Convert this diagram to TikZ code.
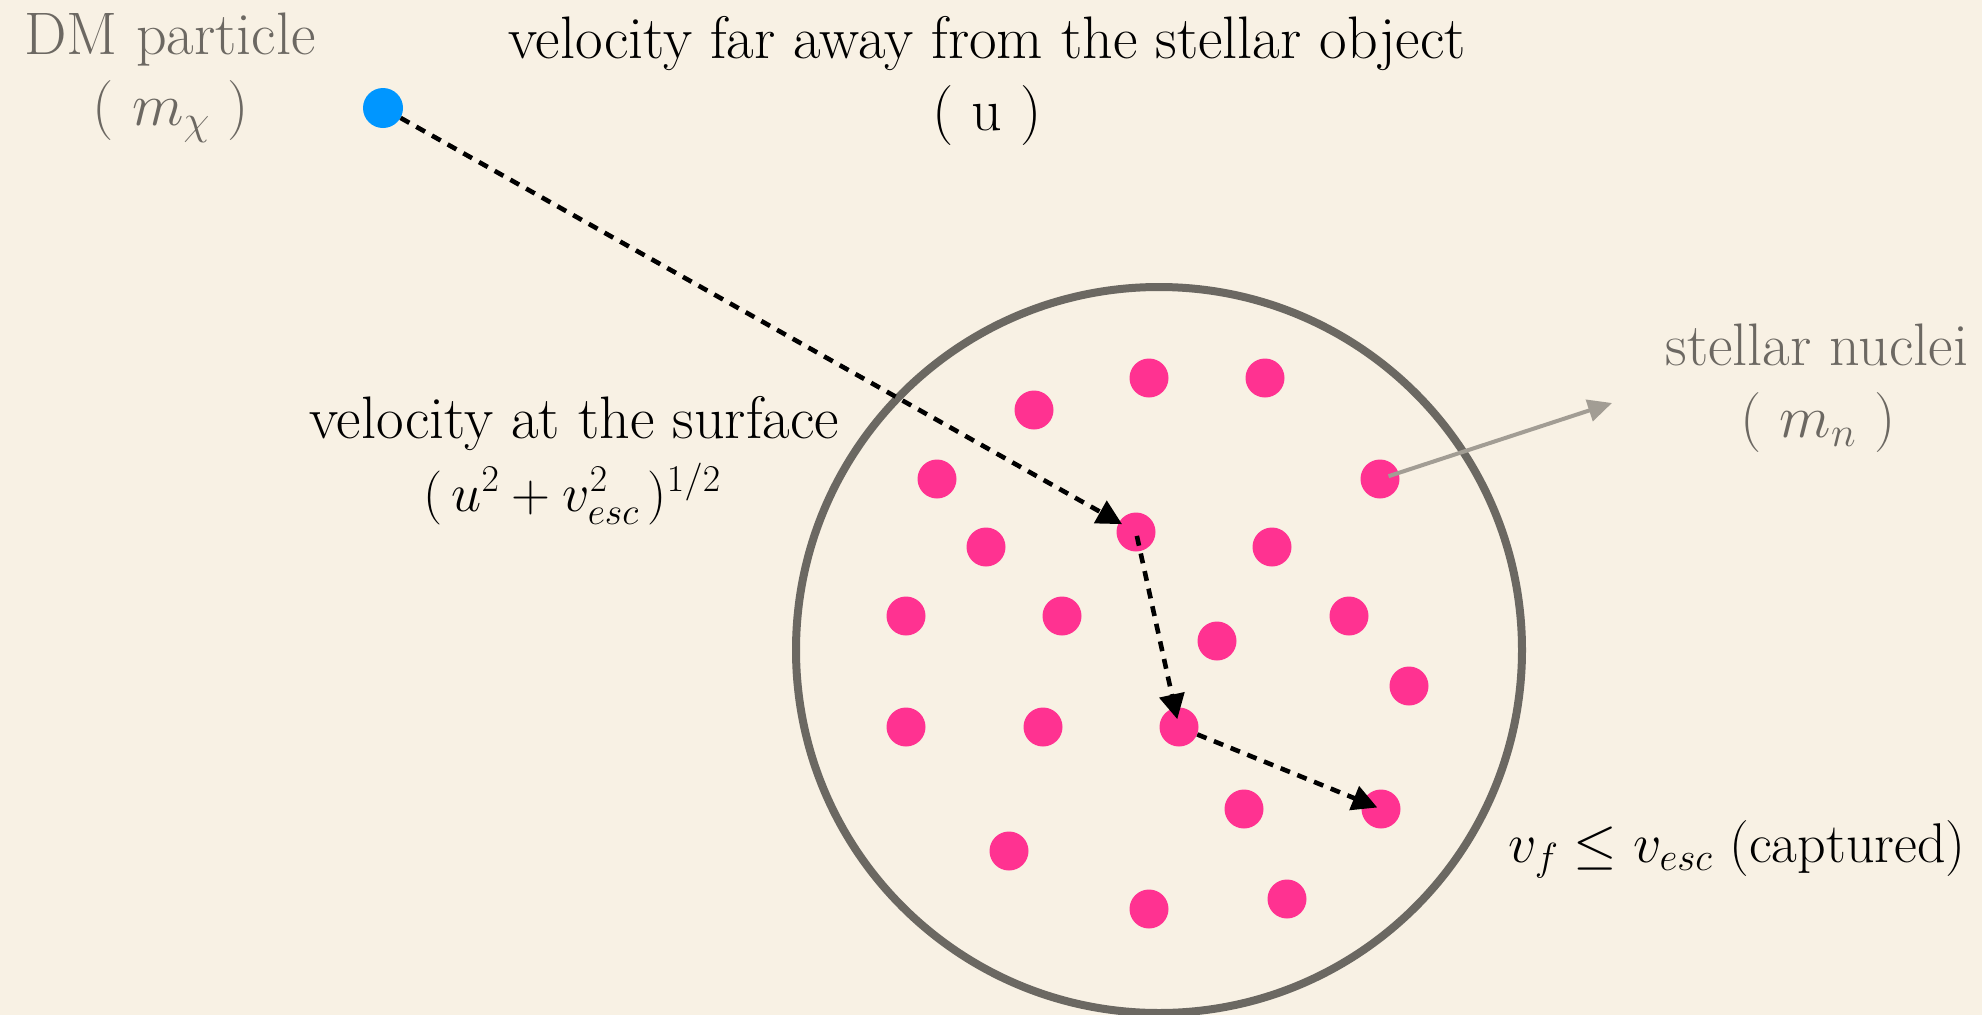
\RequirePackage{fix-cm}
\documentclass[tikz,border=0pt]{standalone}
\usetikzlibrary{arrows.meta}
\definecolor{bg}{RGB}{248,241,228}
\definecolor{pinkdot}{RGB}{255,50,145}
\definecolor{bluedot}{RGB}{0,150,255}
\definecolor{ringgray}{RGB}{107,104,98}
\definecolor{txtgray}{RGB}{108,104,98}
\definecolor{arrgray}{RGB}{162,157,148}
\tikzset{
  nucleus/.style={circle,fill=pinkdot,draw=none,minimum size=39pt,inner sep=0pt},
  dmdot/.style={circle,fill=bluedot,draw=none,minimum size=40pt,inner sep=0pt},
  dmpath/.style={line width=4.6pt,dash pattern=on 10pt off 8pt,-{Triangle[length=25pt,width=25pt]}},
  grayarrow/.style={line width=4pt,arrgray,-{Triangle[length=24pt,width=22pt]}},
  lbl/.style={anchor=base,inner sep=0pt,font=\fontsize{60}{70}\selectfont},
  lblsmall/.style={anchor=base,inner sep=0pt,font=\fontsize{54}{64}\selectfont},
}
\begin{document}
\begin{tikzpicture}[x=1pt,y=-1pt]
\fill[bg] (0,0) rectangle (1982,1015);
\useasboundingbox (0,0) rectangle (1982,1015);
% star
\node[circle,draw=ringgray,line width=8pt,minimum size=726pt,inner sep=0pt] (star) at (1159,650) {};
% nuclei
\node[nucleus] (n1) at (1149,378) {};
\node[nucleus] (n2) at (1265,378) {};
\node[nucleus] (n3) at (1034,410) {};
\node[nucleus] (n4) at (937,479) {};
\node[nucleus] (n5) at (1380,479) {};
\node[nucleus] (n6) at (1136,532) {};
\node[nucleus] (n7) at (986,547) {};
\node[nucleus] (n8) at (1272,547) {};
\node[nucleus] (n9) at (906,616) {};
\node[nucleus] (n10) at (1062,616) {};
\node[nucleus] (n11) at (1217,641) {};
\node[nucleus] (n12) at (1349,616) {};
\node[nucleus] (n13) at (1409,686) {};
\node[nucleus] (n14) at (906,727) {};
\node[nucleus] (n15) at (1043,727) {};
\node[nucleus] (n16) at (1179,727) {};
\node[nucleus] (n17) at (1244,809) {};
\node[nucleus] (n18) at (1381,809) {};
\node[nucleus] (n19) at (1009,851) {};
\node[nucleus] (n20) at (1149,909) {};
\node[nucleus] (n21) at (1287,899) {};
% DM particle
\node[dmdot] (dm) at (383,108) {};
% paths
\draw[dmpath,shorten >=16pt] (dm) -- (n6.center);
\draw[dmpath,shorten >=8pt,shorten <=4pt] (n6.center) -- (n16.center);
\draw[dmpath,shorten >=4pt] (n16) -- (n18.center);
% nuclei label arrow
\coordinate (nt) at (1612,403);
\draw[grayarrow,shorten <=9pt] (n5.center) -- (nt);
% labels
\node[lbl,txtgray] (dmlbl) at (170,54) {DM particle};
\node[lbl,txtgray] (dmmass) at (171,125) {( $m_\chi$ )};
\node[lbl] (ulbl) at (987,58) {velocity far away from the stellar object};
\node[lbl] (uval) at (987,130) {( u )};
\node[lbl] (slbl) at (574,438) {velocity at the surface};
\node[lblsmall] (sval) at (572,511) {$(\,u^2+v_{esc}^2\,)^{1/2}$};
\node[lbl,txtgray] (nlbl) at (1817,365) {stellar nuclei};
\node[lbl,txtgray] (nmass) at (1818,437) {( $m_n$ )};
\node[anchor=base,inner sep=0pt,font=\fontsize{56}{66}\selectfont] (cap) at (1737,862) {$v_f\le v_{esc}$ (captured)};
\end{tikzpicture}
\end{document}
